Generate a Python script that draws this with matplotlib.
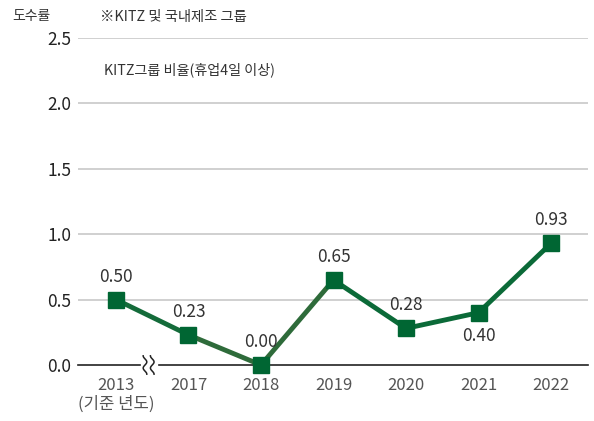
import numpy as np
import matplotlib
matplotlib.use("Agg")
import matplotlib.pyplot as plt

plt.rcParams['font.family'] = ['Noto Sans CJK KR', 'DejaVu Sans']

years = ['2013', '2017', '2018', '2019', '2020', '2021', '2022']
values = [0.50, 0.23, 0.00, 0.65, 0.28, 0.40, 0.93]
label_pos = ['above', 'above', 'above', 'above', 'above', 'below', 'above']
yticks = [0.0, 0.5, 1.0, 1.5, 2.0, 2.5]
# line colour of each segment (2017-2019 is a little lighter in the original)
seg_colors = ['#146b3a', '#2e6b3a', '#2e6b3a', '#0b6a38', '#0b6a38', '#0b6a38']

marker_color = '#006633'
text_color = '#333333'

fig = plt.figure(figsize=(5.94, 4.21), dpi=100)
ax = fig.add_axes([78 / 594, 56 / 421, 510 / 594, 327 / 421])

x = np.arange(len(years))
ax.set_xlim(-0.524, 6.51)
ax.set_ylim(0, 2.5)

for t in yticks[1:]:
    ax.axhline(t, color='#c8c8c8', lw=1.2, zorder=0)

# baseline with break mark between 2013 and 2017
ax.plot([-0.524, 0.33], [0, 0], color='#222222', lw=1.2, clip_on=False, zorder=1)
ax.plot([0.60, 6.51], [0, 0], color='#222222', lw=1.2, clip_on=False, zorder=1)
tt = np.linspace(-1, 1, 30)
for dx in [0.40, 0.50]:
    ax.plot(dx + 0.025 * np.sin(tt * np.pi * 1.5), tt * 0.07, color='#222222', lw=1.1,
            clip_on=False, zorder=1)

for i, c in enumerate(seg_colors):
    ax.plot(x[i:i + 2], values[i:i + 2], color=c, lw=3.5, solid_capstyle='round',
            clip_on=False, zorder=2)
ax.plot(x, values, ls='none', marker='s', markersize=11,
        markerfacecolor=marker_color, markeredgecolor=marker_color, clip_on=False, zorder=3)

for xi, v, p in zip(x, values, label_pos):
    off = 10 if p == 'above' else -10
    ax.annotate(f'{v:.2f}', (xi, v), xytext=(0, off), textcoords='offset points',
                ha='center', va='bottom' if p == 'above' else 'top',
                fontsize=12.5, color=text_color)

ax.set_yticks(yticks)
ax.set_yticklabels([f'{t:.1f}' for t in yticks], fontsize=12.5, color='#222222')
ax.set_xticks(x)
xlabels = list(years)
xlabels[0] = '2013\n(기준 년도)'
ax.set_xticklabels(xlabels, fontsize=12, color='#555555', linespacing=1.1)
ax.tick_params(length=0, pad=9)
ax.tick_params(axis='y', pad=5)
for s in ax.spines.values():
    s.set_visible(False)

fig.text(12 / 594, 1 - 16 / 421, '도수률', fontsize=10, color=text_color, va='center')
fig.text(100 / 594, 1 - 17 / 421, '※KITZ 및 국내제조 그룹', fontsize=10.3, color=text_color, va='center')
fig.text(104 / 594, 1 - 70 / 421, 'KITZ그룹 비율(휴업4일 이상)', fontsize=10.2, color=text_color, va='center')

fig.savefig('out.png', dpi=100)
